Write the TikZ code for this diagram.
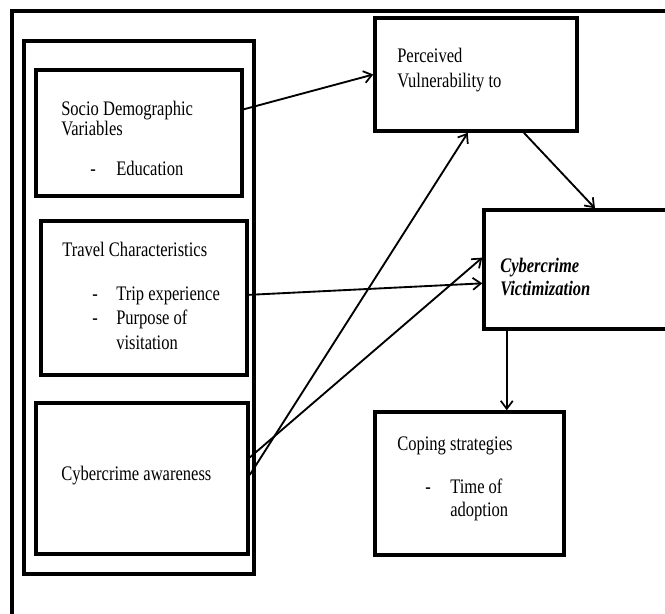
\documentclass[tikz,border=0pt]{standalone}
\usepackage{fontspec}
\setmainfont{Liberation Serif}
\usetikzlibrary{arrows.meta,calc,fit}
\newcommand\hsq[1]{\scalebox{0.8}[1]{#1}}
\begin{document}
\begin{tikzpicture}[x=0.75pt,y=-0.75pt,
  box/.style={draw, line width=2.6pt, inner sep=0pt},
  frame/.style={draw, line width=2.8pt, inner sep=0pt},
  arr/.style={line width=1.4pt, -{Straight Barb[length=6pt,width=9pt,line width=1.3pt]}},
  txt/.style={anchor=base west, inner sep=0pt, font=\fontsize{15.5}{18}\selectfont}]
\useasboundingbox (0,0) rectangle (665,614);
\clip (0,0) rectangle (665,614);
\fill[white] (0,0) rectangle (665,614);

% outer frame (cut by the picture edges)
\node[frame, fit={(12,11) (690,640)}] (outer) {};
% container of the independent variables
\node[frame, fit={(24,41) (254,574)}] (cont) {};

% boxes
\node[box, fit={(36,70) (242,196)}] (socio) {};
\node[box, fit={(41,221) (247,375)}] (travel) {};
\node[box, fit={(36,403) (248,554)}] (aware) {};
\node[box, fit={(375,18) (577,131)}] (perc) {};
\node[box, fit={(484,210) (690,329)}] (vict) {};
\node[box, fit={(375,412) (564,555)}] (coping) {};

% texts
\node[txt] (t1) at (61,115) {\hsq{Socio Demographic}};
\node[txt] (t2) at (61,135) {\hsq{Variables}};
\node[txt] (t3) at (90,175) {\hsq{-}};
\node[txt] (t4) at (116,175) {\hsq{Education}};

\node[txt] (t5) at (62,256) {\hsq{Travel Characteristics}};
\node[txt] (t6) at (92,300) {\hsq{-}};
\node[txt] (t7) at (116,300) {\hsq{Trip experience}};
\node[txt] (t8) at (92,324) {\hsq{-}};
\node[txt] (t9) at (116,324) {\hsq{Purpose of}};
\node[txt] (t10) at (116,349) {\hsq{visitation}};

\node[txt] (t11) at (61,480) {\hsq{Cybercrime awareness}};

\node[txt] (t12) at (397,62) {\hsq{Perceived}};
\node[txt] (t13) at (397,87) {\hsq{Vulnerability to}};

\node[txt, font=\fontsize{15.5}{18}\selectfont\bfseries\itshape] (t14) at (500,272) {\hsq{Cybercrime}};
\node[txt, font=\fontsize{15.5}{18}\selectfont\bfseries\itshape] (t15) at (500,295) {\hsq{Victimization}};

\node[txt] (t16) at (397,450) {\hsq{Coping strategies}};
\node[txt] (t17) at (425,493) {\hsq{-}};
\node[txt] (t18) at (450,493) {\hsq{Time of}};
\node[txt] (t19) at (450,516) {\hsq{adoption}};

% connectors
\draw[arr] ($(socio.north east)!0.317!(socio.south east)$) -- (perc.west);
\draw[arr] ($(perc.south west)!0.733!(perc.south east)$) -- ($(vict.north west)!0.538!(vict.north east)$);
\draw[arr] ($(travel.north east)!0.48!(travel.south east)$) -- ($(vict.north west)!0.613!(vict.south west)$);
\draw[arr] ($(aware.north east)!0.477!(aware.south east)$) -- ($(perc.south west)!0.46!(perc.south east)$);
\draw[arr] ($(aware.north east)!0.364!(aware.south east)$) -- ($(vict.north west)!0.403!(vict.south west)$);
\draw[arr] ($(vict.south west)!0.117!(vict.south east)$) coordinate (v6) -- (v6 |- coping.north);
\end{tikzpicture}
\end{document}
